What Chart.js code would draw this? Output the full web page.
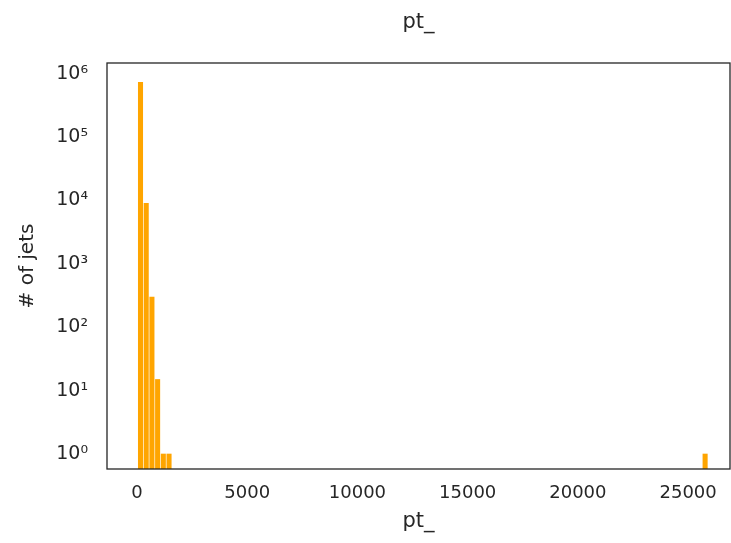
<!DOCTYPE html>
<html>
<head>
<meta charset="utf-8">
<script src="https://cdn.jsdelivr.net/npm/chart.js@4.4.0/dist/chart.umd.min.js"></script>
<style>
    body { margin: 0; background: #fff; }
    #contenedor { width: 731px; height: 543px; }
</style>
</head>
<body>
<div id="contenedor"><canvas id="grafica-pt"></canvas></div>
<script>
// Histograma de pt_ (solo los bins con entradas)
let centrosBins = [160, 419, 678, 936, 1195, 1454, 25771];
let cantidadJets = [730000, 9000, 300, 15, 1, 1, 1];
let ticksX = [0, 5000, 10000, 15000, 20000, 25000];
let ticksY = [1, 10, 100, 1000, 10000, 100000, 1000000];

const superindices = ['⁰', '¹', '²', '³', '⁴', '⁵', '⁶', '⁷', '⁸', '⁹'];
const colorTexto = '#262626';
const fuente = 'DejaVu Sans';

function etiquetaPotencia(valor) {
    let exponente = Math.round(Math.log10(valor));
    return '10' + String(exponente).split('').map(function (d) {
        return superindices[d];
    }).join('');
}

// Marco completo alrededor del área de la gráfica
let marco = {
    id: 'marco',
    afterDatasetsDraw: function (chart) {
        let ctx = chart.ctx;
        let area = chart.chartArea;
        ctx.save();
        ctx.strokeStyle = colorTexto;
        ctx.lineWidth = 1.3;
        ctx.strokeRect(area.left, area.top, area.right - area.left, area.bottom - area.top);
        ctx.restore();
    }
};

new Chart(document.getElementById('grafica-pt').getContext('2d'), {
    type: 'bar',
    data: {
        datasets: [{
            label: 'pt_',
            data: centrosBins.map(function (x, i) {
                return { x: x, y: cantidadJets[i] };
            }),
            backgroundColor: '#ffa500',
            borderWidth: 0,
            barThickness: 4.4
        }]
    },
    plugins: [marco],
    options: {
        responsive: true,
        maintainAspectRatio: false,
        animation: false,
        layout: { padding: { left: 0, right: 1, top: 0, bottom: 0 } },
        plugins: {
            legend: { display: false },
            title: { display: false },
            tooltip: { enabled: false }
        },
        scales: {
            x: {
                type: 'linear',
                position: 'bottom',
                offset: false,
                min: -1360,
                max: 26900,
                afterBuildTicks: function (scale) {
                    scale.ticks = ticksX.map(function (v) { return { value: v }; });
                },
                afterFit: function (scale) { scale.height = 74; },
                grid: { display: false, drawTicks: false, offset: false },
                border: { display: false },
                ticks: {
                    color: colorTexto,
                    font: { family: fuente, size: 18 },
                    padding: 14,
                    maxRotation: 0,
                    autoSkip: false,
                    callback: function (valor) {
                        return String(valor);
                    }
                },
                title: {
                    display: true,
                    text: 'pt_',
                    color: colorTexto,
                    font: { family: fuente, size: 21 },
                    padding: { top: 0, bottom: 9 }
                }
            },
            x2: {
                type: 'linear',
                position: 'top',
                afterFit: function (scale) { scale.height = 63; },
                grid: { display: false, drawTicks: false },
                border: { display: false },
                ticks: { display: false },
                title: {
                    display: true,
                    text: 'pt_',
                    color: colorTexto,
                    font: { family: fuente, size: 21 },
                    padding: { top: 10, bottom: 0 }
                }
            },
            y: {
                type: 'logarithmic',
                min: 0.58,
                max: 1480000,
                afterBuildTicks: function (scale) {
                    scale.ticks = ticksY.map(function (v) { return { value: v }; });
                },
                afterFit: function (scale) { scale.width = 107; },
                grid: { display: false, drawTicks: false },
                border: { display: false },
                ticks: {
                    color: colorTexto,
                    font: { family: fuente, size: 19 },
                    padding: 19,
                    autoSkip: false,
                    callback: function (valor) {
                        return etiquetaPotencia(valor);
                    }
                },
                title: {
                    display: true,
                    text: '# of jets',
                    color: colorTexto,
                    font: { family: fuente, size: 20 },
                    padding: { top: 16, bottom: 0 }
                }
            }
        }
    }
});
</script>
</body>
</html>
